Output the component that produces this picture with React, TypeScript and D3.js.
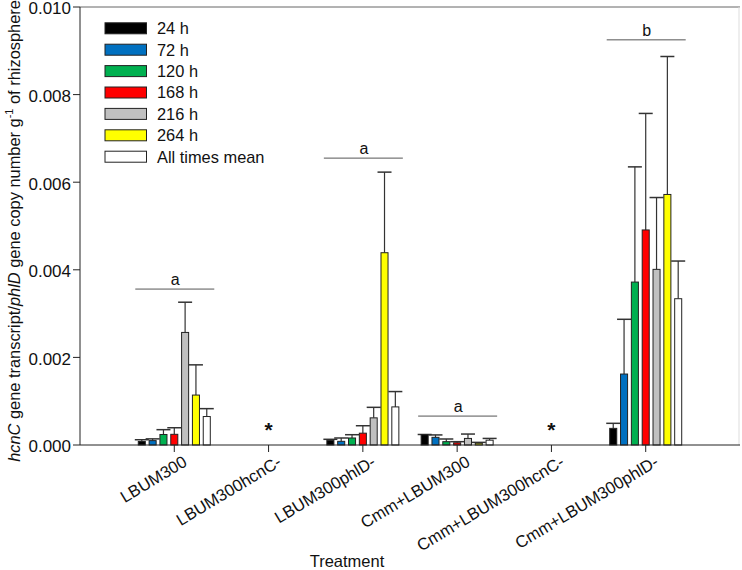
import React from "react";
import * as d3 from "d3";

const groups = ["LBUM300", "LBUM300hcnC-", "LBUM300phlD-", "Cmm+LBUM300", "Cmm+LBUM300hcnC-", "Cmm+LBUM300phlD-"];
const seriesNames = ["24 h", "72 h", "120 h", "168 h", "216 h", "264 h", "All times mean"];
const seriesColors = ["#000000", "#0070c0", "#00b050", "#ff0000", "#c0c0c0", "#ffff00", "#ffffff"];

const mean24 = [0.00008, null, 0.000107, 0.000235, null, 0.00038];
const mean72 = [0.0001, null, 0.000084, 0.000175, null, 0.00162];
const mean120 = [0.00024, null, 0.00016, 0.000076, null, 0.00372];
const mean168 = [0.000244, null, 0.00027, 0.00005, null, 0.00491];
const mean216 = [0.00257, null, 0.00062, 0.00015, null, 0.00401];
const mean264 = [0.00114, null, 0.00439, 0.00004, null, 0.00572];
const meanAll = [0.00065, null, 0.00087, 0.00011, null, 0.00334];

const err24 = [0.00004, null, 0.000023, 0.000005, null, 0.000115];
const err72 = [0.00004, null, 0.000076, 0.000055, null, 0.00125];
const err120 = [0.00011, null, 0.000075, 0.000061, null, 0.00263];
const err168 = [0.00015, null, 0.00017, 0.000026, null, 0.00266];
const err216 = [0.00069, null, 0.00024, 0.0001, null, 0.00164];
const err264 = [0.00069, null, 0.00184, 0.00002, null, 0.00315];
const errAll = [0.00018, null, 0.00035, 0.00004, null, 0.00086];

const sigLetters = ["a", null, "a", "a", null, "b"];
const sigLevels = [0.00356, null, 0.00655, 0.00066, null, 0.00925];
const notDetected = [false, true, false, false, true, false];

const yTicks = [0, 0.002, 0.004, 0.006, 0.008, 0.01];

const means = [mean24, mean72, mean120, mean168, mean216, mean264, meanAll];
const errs = [err24, err72, err120, err168, err216, err264, errAll];

const FONT = "'Liberation Sans', Arial, sans-serif";

export default function App() {
  const W = 742, H = 570;
  const left = 80, right = 740, top = 7, bottom = 445;
  const x = d3.scalePoint<string>().domain(groups).range([left, right]).padding(1);
  const inner = d3.scaleBand<number>().domain(d3.range(seriesNames.length)).range([-36, 36]).paddingInner(0.35);
  const y = d3.scaleLinear().domain([0, 0.01]).range([bottom, top]);
  const fmt = d3.format(".3f");
  const bw = inner.bandwidth();
  const axisColor = "#222";
  const errColor = "#333";

  return (
    <svg width={W} height={H} style={{ position: "absolute", left: 0, top: 0, background: "#fff" }} fontFamily={FONT}>
      {/* frame */}
      <line x1={left} x2={right} y1={top} y2={top} stroke="#666" strokeWidth={1} />
      <line x1={right - 1} x2={right - 1} y1={top} y2={bottom} stroke="#ddd" strokeWidth={1} />

      {/* bars */}
      {groups.map((g, gi) => (
        <g key={g}>
          {means.map((m, si) => {
            const v = m[gi];
            if (v == null) return null;
            const bx = (x(g) as number) + (inner(si) as number);
            const e = errs[si][gi] as number;
            const cx = bx + bw / 2;
            return (
              <g key={si}>
                <line x1={cx} x2={cx} y1={y(v)} y2={y(v + e)} stroke={errColor} strokeWidth={1.2} />
                <line x1={cx - 7} x2={cx + 7} y1={y(v + e)} y2={y(v + e)} stroke={errColor} strokeWidth={1.5} />
                <rect x={bx} y={y(v)} width={bw} height={bottom - y(v)} fill={seriesColors[si]} stroke="#222" strokeWidth={1} />
              </g>
            );
          })}
          {sigLetters[gi] != null && (
            <g>
              <line x1={(x(g) as number) - 39} x2={(x(g) as number) + 40} y1={y(sigLevels[gi] as number)} y2={y(sigLevels[gi] as number)} stroke="#555" strokeWidth={1} />
              <text x={(x(g) as number) + 1} y={y(sigLevels[gi] as number) - 4} textAnchor="middle" fontSize={16} fill="#111">{sigLetters[gi]}</text>
            </g>
          )}
          {notDetected[gi] && (
            <text x={x(g) as number} y={y(0) - 8} textAnchor="middle" fontSize={21} fontWeight="bold" fill="#111">*</text>
          )}
        </g>
      ))}

      {/* y axis */}
      <line x1={left} x2={left} y1={top} y2={bottom} stroke={axisColor} strokeWidth={1} />
      {yTicks.map((t) => (
        <g key={t}>
          <line x1={left - 7} x2={left} y1={y(t)} y2={y(t)} stroke={axisColor} strokeWidth={1} />
          <text x={left - 9} y={y(t)} dy="0.44em" textAnchor="end" fontSize={17} fill="#111">{fmt(t)}</text>
        </g>
      ))}

      {/* x axis */}
      <line x1={left} x2={right} y1={bottom} y2={bottom} stroke={axisColor} strokeWidth={1} />
      {groups.map((g) => (
        <g key={g}>
          <line x1={x(g) as number} x2={x(g) as number} y1={bottom} y2={bottom + 7} stroke={axisColor} strokeWidth={1} />
          <text
            transform={`translate(${(x(g) as number) + 14},${bottom + 20}) rotate(-31)`}
            textAnchor="end"
            fontSize={16.7}
            fill="#111"
          >
            {g}
          </text>
        </g>
      ))}

      {/* axis titles */}
      <text x={347} y={567} textAnchor="middle" fontSize={16.5} fill="#111">Treatment</text>
      <text transform={`translate(20,231) rotate(-90)`} textAnchor="middle" fontSize={16.4} fill="#111">
        <tspan fontStyle="italic">hcnC</tspan>
        <tspan> gene transcript/</tspan>
        <tspan fontStyle="italic">phlD</tspan>
        <tspan> gene copy number g</tspan>
        <tspan fontSize={11} dy={-7}>-1</tspan>
        <tspan dy={7}> of rhizosphere</tspan>
      </text>

      {/* legend */}
      {seriesNames.map((s, i) => (
        <g key={s} transform={`translate(105,${28.3 + i * 21.4})`}>
          <rect x={0} y={-5.5} width={41.5} height={11} fill={seriesColors[i]} stroke="#222" strokeWidth={1} />
          <text x={52} y={0} dy="0.36em" fontSize={16.4} fill="#111">{s}</text>
        </g>
      ))}
    </svg>
  );
}
